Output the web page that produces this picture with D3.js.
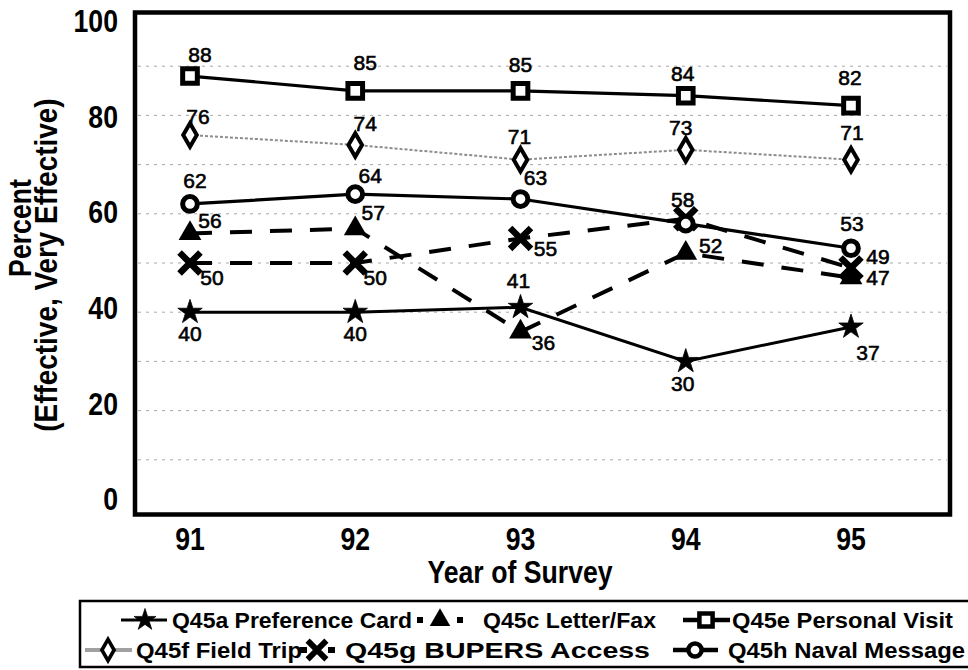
<!DOCTYPE html>
<html>
<head>
<meta charset="utf-8">
<script src="https://cdn.jsdelivr.net/npm/d3@7"></script>
<style>
  html, body { margin: 0; padding: 0; background: #fff; }
  svg { display: block; font-family: "Liberation Sans", Arial, sans-serif; }
</style>
</head>
<body>
<svg id="chart" width="968" height="670"></svg>
<script>
// ---------------- DATA ----------------
const years = ["91", "92", "93", "94", "95"];
const preferenceCard = [40, 40, 41, 30, 37];
const letterFax      = [56, 57, 36, 52, 47];
const personalVisit  = [88, 85, 85, 84, 82];
const fieldTrip      = [76, 74, 71, 73, 71];
const bupersAccess   = [50, 50, 55, 59, 49];
const navalMessage   = [62, 64, 63, 58, 53];
const yTickValues    = [0, 20, 40, 60, 80, 100];
const gridValues     = [10, 20, 30, 40, 50, 60, 70, 80, 90];
const seriesNames = ["Q45a Preference Card", "Q45c Letter/Fax", "Q45e Personal Visit",
                     "Q45f Field Trip", "Q45g BUPERS Access", "Q45h Naval Message"];
const xTitle = "Year of Survey";
const yTitle1 = "Percent";
const yTitle2 = "(Effective, Very Effective)";

// ---------------- LAYOUT ----------------
const svg = d3.select("#chart");
const frame = { left: 135, top: 12.5, right: 950, bottom: 514.5 };
const x = d3.scalePoint().domain(years).range([190, 851]);
const y = d3.scaleLinear().domain([0, 100]).range([509, 17]);
const yLabelPos = d3.scaleLinear().domain([0, 100]).range([499, 21]);

const symStar = d3.symbol().type(d3.symbolStar).size(185);
const symTri = d3.symbol().type(d3.symbolTriangle).size(225);
const symSquare = d3.symbol().type(d3.symbolSquare).size(215);
const symDiamond = d3.symbol().type(d3.symbolDiamond).size(160);
const symX = d3.symbol().type(d3.symbolTimes).size(175);
const symCircle = d3.symbol().type(d3.symbolCircle).size(170);

const series = [
  { name: seriesNames[0], values: preferenceCard, sym: symStar, fill: "#000", stroke: "#000", sw: 0.8,
    line: { stroke: "#000", width: 3, dash: null },
    lab: [[0,21],[0,21],[-2,-27],[-3,22],[17,25]] },
  { name: seriesNames[1], values: letterFax, sym: symTri, fill: "#000", stroke: "none", sw: 0,
    line: { stroke: "#000", width: 4, dash: "22,18" },
    lab: [[20,-13],[18,-16],[23,11],[25,-8],[27,0]] },
  { name: seriesNames[2], values: personalVisit, sym: symSquare, fill: "#fff", stroke: "#000", sw: 5,
    line: { stroke: "#000", width: 3.2, dash: null },
    lab: [[10,-22],[10,-28],[0,-26],[-3,-22],[-1,-28]] },
  { name: seriesNames[3], values: fieldTrip, sym: symDiamond, fill: "#fff", stroke: "#000", sw: 4,
    line: { stroke: "#8c8c8c", width: 2, dash: "3,2" },
    lab: [[8,-19],[10,-21],[-1,-23],[-5,-22],[1,-27]] },
  { name: seriesNames[4], values: bupersAccess, sym: symX, fill: "none", stroke: "#000", sw: 6.5,
    line: { stroke: "#000", width: 4, dash: "22,18" },
    lab: [[22,14],[20,14],[25,10],null,[27,-11]] },
  { name: seriesNames[5], values: navalMessage, sym: symCircle, fill: "#fff", stroke: "#000", sw: 5,
    line: { stroke: "#000", width: 3.2, dash: null },
    lab: [[5,-24],[15,-19],[15,-22],[-3,-24],[1,-25]] }
];

// gridlines
svg.append("g").selectAll("line").data(gridValues).join("line")
  .attr("x1", frame.left + 3).attr("x2", frame.right - 3)
  .attr("y1", d => y(d)).attr("y2", d => y(d))
  .attr("stroke", "#a8a8a8").attr("stroke-width", 1).attr("stroke-dasharray", "3,5");

// lines
const lineGen = d3.line().x((d, i) => x(years[i])).y(d => y(d));
const linesG = svg.append("g");
[3, 0, 2, 5, 1, 4].forEach(k => {
  const s = series[k];
  linesG.append("path").datum(s.values)
    .attr("d", lineGen).attr("fill", "none")
    .attr("stroke", s.line.stroke).attr("stroke-width", s.line.width)
    .attr("stroke-dasharray", s.line.dash);
});

// markers
const markG = svg.append("g");
[1, 4, 0, 2, 3, 5].forEach(k => {
  const s = series[k];
  markG.append("g").selectAll("path").data(s.values).join("path")
    .attr("d", s.sym())
    .attr("transform", (d, i) => `translate(${x(years[i])},${y(d)})`)
    .attr("fill", s.fill).attr("stroke", s.stroke).attr("stroke-width", s.sw)
    .attr("stroke-linecap", k === 4 ? "square" : null);
});

// data labels
const labG = svg.append("g");
series.forEach(s => {
  s.values.forEach((v, i) => {
    const o = s.lab[i];
    if (!o) return;
    labG.append("text")
      .attr("x", x(years[i]) + o[0]).attr("y", y(v) + o[1])
      .attr("dy", "0.36em").attr("text-anchor", "middle")
      .attr("font-size", 21).attr("fill", "#000")
      .attr("stroke", "#000").attr("stroke-width", 0.6)
      .text(v);
  });
});

// frame
svg.append("rect")
  .attr("x", frame.left).attr("y", frame.top)
  .attr("width", frame.right - frame.left).attr("height", frame.bottom - frame.top)
  .attr("fill", "none").attr("stroke", "#000").attr("stroke-width", 4.5);

// y tick labels
svg.append("g").selectAll("text").data(yTickValues).join("text")
  .attr("transform", d => `translate(118,${yLabelPos(d)}) scale(0.86,1)`)
  .attr("dy", "0.36em").attr("text-anchor", "end")
  .attr("font-size", 31).attr("font-weight", "bold").text(d => d);

// x tick labels
svg.append("g").selectAll("text").data(years).join("text")
  .attr("transform", d => `translate(${x(d)},550) scale(0.86,1)`)
  .attr("text-anchor", "middle")
  .attr("font-size", 31).attr("font-weight", "bold").text(d => d);

// axis titles
svg.append("text")
  .attr("transform", "translate(520,583) scale(0.86,1)")
  .attr("text-anchor", "middle").attr("font-size", 31).attr("font-weight", "bold")
  .text(xTitle);
svg.append("text")
  .attr("transform", "translate(31,228) rotate(-90) scale(0.86,1)")
  .attr("text-anchor", "middle").attr("font-size", 31).attr("font-weight", "bold")
  .text(yTitle1);
svg.append("text")
  .attr("transform", "translate(57,265) rotate(-90) scale(0.9,1)")
  .attr("text-anchor", "middle").attr("font-size", 31).attr("font-weight", "bold")
  .text(yTitle2);

// legend
const legG = svg.append("g");
legG.append("rect").attr("x", 80).attr("y", 601).attr("width", 930).attr("height", 66)
  .attr("fill", "#fff").attr("stroke", "#000").attr("stroke-width", 2.5);
const legendLayout = [
  { k: 0, row: 620, x0: 121, x1: 167, mx: 145, tx: 172, tw: 240, dash: null, lw: 3 },
  { k: 1, row: 620, x0: 417, x1: 463, mx: 440, tx: 483, tw: 173, dash: "6,34,6", lw: 6 },
  { k: 2, row: 620, x0: 683, x1: 730, mx: 706, tx: 732, tw: 221, dash: null, lw: 4.5 },
  { k: 3, row: 650, x0: 85,  x1: 132, mx: 108, tx: 136, tw: 166, dash: null, lw: 4 },
  { k: 4, row: 650, x0: 300, x1: 335, mx: 317, tx: 345, tw: 305, dash: "7,21,7", lw: 6 },
  { k: 5, row: 650, x0: 673, x1: 718, mx: 695, tx: 728, tw: 237, dash: null, lw: 4.5 }
];
legendLayout.forEach(L => {
  const s = series[L.k];
  legG.append("line").attr("x1", L.x0).attr("x2", L.x1).attr("y1", L.row).attr("y2", L.row)
    .attr("stroke", L.k === 3 ? "#a0a0a0" : "#000").attr("stroke-width", L.lw)
    .attr("stroke-dasharray", L.dash);
  legG.append("path").attr("d", s.sym())
    .attr("transform", `translate(${L.mx},${L.row}) scale(0.9)`)
    .attr("fill", s.fill).attr("stroke", s.stroke).attr("stroke-width", s.sw)
    .attr("stroke-linecap", L.k === 4 ? "square" : null);
  legG.append("text").attr("x", L.tx).attr("y", L.row).attr("dy", "0.36em")
    .attr("font-size", 22).attr("font-weight", "bold")
    .attr("textLength", L.tw).attr("lengthAdjust", "spacingAndGlyphs")
    .text(s.name);
});
</script>
</body>
</html>
